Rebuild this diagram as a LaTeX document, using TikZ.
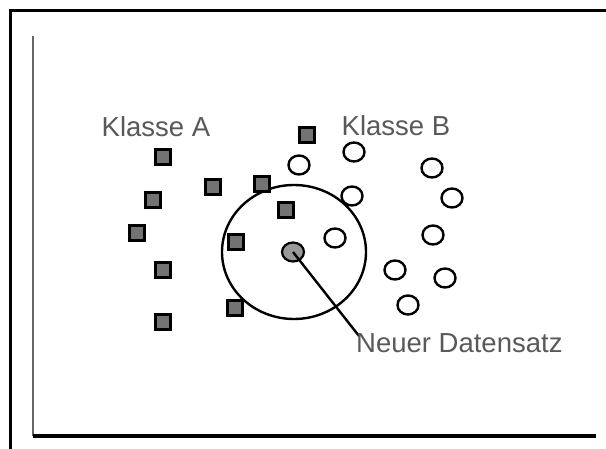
\documentclass[tikz,border=0pt]{standalone}
\usepackage{fontspec}
\setmainfont{Liberation Sans}
\usetikzlibrary{shapes.geometric}
\begin{document}
\begin{tikzpicture}[x=1pt,y=-1pt,
  sq/.style={draw=black,line width=2.2pt,fill=black!55,rectangle,minimum size=15pt,inner sep=0pt},
  wc/.style={draw=black,line width=2.4pt,fill=white,ellipse,minimum width=21pt,minimum height=19pt,inner sep=0pt},
  lbl/.style={text=black!65,font=\fontsize{27.5}{29}\selectfont,inner sep=0pt},
  framel/.style={line width=3pt,black},
]
\useasboundingbox (0,0) rectangle (606,449);
% outer frame (partially visible)
\draw[framel] (10,449) -- (10,11) -- (606,11);
% axes
\coordinate (yt) at (33,36);
\coordinate (o) at (33,436);
\coordinate (xr) at (596,436);
\draw[line width=2.4pt,black!60] (yt) -- (o);
\draw[line width=3.5pt,black] (o) -- (xr);
% big circle
\node[draw=black,line width=2.4pt,ellipse,minimum width=144pt,minimum height=134pt,inner sep=0pt] (nb) at (294,252) {};
% class A squares
\node[sq] (a1) at (163,157) {};
\node[sq] (a2) at (307,135) {};
\node[sq] (a3) at (213,187) {};
\node[sq] (a4) at (262,184) {};
\node[sq] (a5) at (153,200) {};
\node[sq] (a6) at (286,210) {};
\node[sq] (a7) at (137,233) {};
\node[sq] (a8) at (236,242) {};
\node[sq] (a9) at (163,270) {};
\node[sq] (a10) at (235,308) {};
\node[sq] (a11) at (163,322) {};
% class B circles
\node[wc] (b1) at (299,165) {};
\node[wc] (b2) at (354,152) {};
\node[wc] (b3) at (352,196) {};
\node[wc] (b4) at (335,238) {};
\node[wc] (b5) at (432,168) {};
\node[wc] (b6) at (452,198) {};
\node[wc] (b7) at (433,235) {};
\node[wc] (b8) at (395,270) {};
\node[wc] (b9) at (445,278) {};
\node[wc] (b10) at (408,305) {};
% new data point
\node[draw=black,line width=2.2pt,fill=black!40,ellipse,minimum width=22pt,minimum height=19pt,inner sep=0pt] (np) at (293,252) {};
\coordinate (le) at (359,336);
\draw[line width=2.4pt,black] (np.center) -- (le);
% labels
\node[lbl] (la) at (156,127) {Klasse A};
\node[lbl] (lb) at (396,126) {Klasse B};
\node[lbl,anchor=north west] (ln) at (356,333) {Neuer Datensatz};
\end{tikzpicture}
\end{document}
